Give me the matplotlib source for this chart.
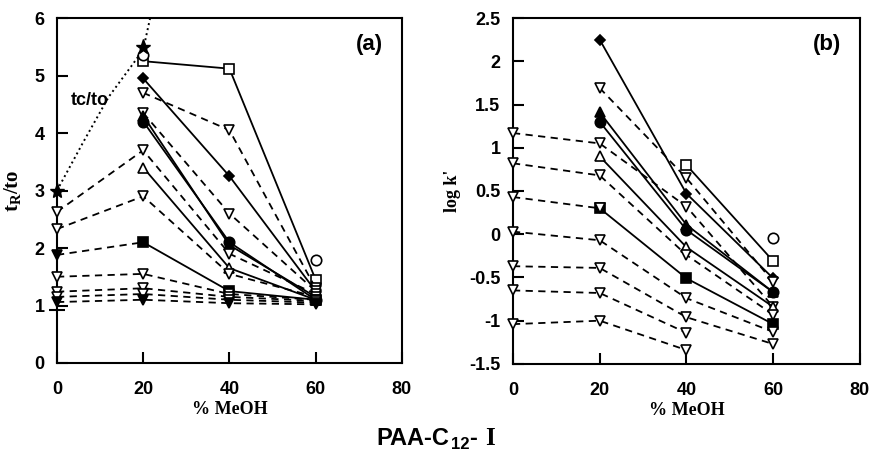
import numpy as np
import matplotlib.pyplot as plt

plt.rcParams['font.family'] = ['Liberation Sans', 'DejaVu Sans']
plt.rcParams['font.weight'] = 'bold'
plt.rcParams['mathtext.default'] = 'regular'

meoh = [0, 20, 40, 60]
nan = np.nan

# (a) tR/t0 values: name -> (values, marker, filled, linestyle)
a_series = {
    "sq_open":   ([nan, 5.25, 5.12, 1.45], 's', False, '-'),
    "circ_open": ([nan, 5.35, nan, 1.80], 'o', False, 'none'),
    "diamond":   ([nan, 4.95, 3.25, 1.25], 'D', True, '-'),
    "tri1":      ([nan, 4.70, 4.05, 1.30], 'v', False, '--'),
    "tri2":      ([nan, 4.35, 2.60, 1.25], 'v', False, '--'),
    "tri_fill":  ([nan, 4.30, 2.05, 1.15], '^', True, '-'),
    "circ_fill": ([nan, 4.20, 2.10, 1.10], 'o', True, '-'),
    "tri3":      ([2.63, 3.70, 1.90, 1.20], 'v', False, '--'),
    "tri_up":    ([nan, 3.40, 1.65, 1.10], '^', False, '-'),
    "tri4":      ([2.33, 2.90, 1.55, 1.15], 'v', False, '--'),
    "sq_fill":   ([1.88, 2.10, 1.25, 1.10], 's', True, '-'),
    "tri5":      ([1.50, 1.55, 1.20, 1.10], 'v', False, '--'),
    "tri6":      ([1.24, 1.30, 1.15, 1.08], 'v', False, '--'),
    "tri7":      ([1.15, 1.20, 1.10, 1.05], 'v', False, '--'),
    "tri8":      ([1.06, 1.10, 1.04, 1.02], 'v', True, '--'),
}
star_a = [3.0, 5.5]

# tc/t0 dotted curve
tc_x = [0, 6, 12, 17.6, 20, 21.6, 22.2]
tc_y = [3.0, 3.83, 4.63, 5.2, 5.45, 6.0, 6.3]

# (b) log k' values
b_series = {
    "sq_open":   ([nan, nan, 0.80, -0.31], 's', False, '-'),
    "circ_open": ([nan, nan, nan, -0.04], 'o', False, 'none'),
    "diamond":   ([nan, 2.25, 0.47, -0.51], 'D', True, '-'),
    "tri1":      ([nan, 1.69, 0.65, -0.55], 'v', False, '--'),
    "tri_fill":  ([nan, 1.41, 0.11, -0.67], '^', True, '-'),
    "circ_fill": ([nan, 1.30, 0.05, -0.67], 'o', True, '-'),
    "tri3":      ([1.17, 1.05, 0.32, -0.84], 'v', False, '--'),
    "tri_up":    ([nan, 0.90, -0.15, -0.84], '^', False, '-'),
    "tri4":      ([0.82, 0.68, -0.24, -0.93], 'v', False, '--'),
    "sq_fill":   ([nan, 0.30, -0.51, -1.04], 's', True, '-'),
    "tri5":      ([0.43, 0.30, nan, nan], 'v', False, '--'),
    "tri6":      ([0.03, -0.07, -0.74, -1.13], 'v', False, '--'),
    "tri7":      ([-0.37, -0.39, -0.96, -1.27], 'v', False, '--'),
    "tri8":      ([-0.65, -0.68, -1.14, nan], 'v', False, '--'),
    "tri9":      ([-1.04, -1.00, -1.34, nan], 'v', False, '--'),
}

MS = 7.5


def plot_line(ax, x, v, mk, fc, ls):
    ms = 5.5 if mk == 'D' else MS
    kw = dict(color='black', lw=1.3, marker=mk, ms=ms, mfc=fc,
              mec='black', mew=1.2, zorder=3, clip_on=False)
    if ls == '--':
        ax.plot(x, v, ls='--', dashes=(4, 3), **kw)
    else:
        ax.plot(x, v, ls=ls, **kw)


def draw_series(ax, series, split_sq=False):
    for name, (vals, mk, filled, ls) in series.items():
        v = np.array(vals, dtype=float)
        x = np.array(meoh, dtype=float)
        ok = ~np.isnan(v)
        fc = 'black' if filled else 'white'
        if name == "sq_fill" and split_sq:
            # dashed from 0 % to 20 %, solid afterwards
            ax.plot(x[:2], v[:2], ls='--', dashes=(4, 3), color='black', lw=1.3)
            plot_line(ax, x[1:], v[1:], mk, fc, '-')
            plot_line(ax, x[:1], v[:1], 'v', 'black', 'none')
            continue
        plot_line(ax, x[ok], v[ok], mk, fc, ls)


def style_axes(ax):
    for s in ax.spines.values():
        s.set_linewidth(1.5)
    ax.tick_params(direction='in', length=8, width=1.5, labelsize=13)
    ax.tick_params(axis='x', pad=13)
    ax.tick_params(axis='y', pad=9)
    for lab in ax.get_xticklabels() + ax.get_yticklabels():
        lab.set_fontweight('bold')


fig = plt.figure(figsize=(8.73, 4.63), dpi=100)
ax1 = fig.add_axes([0.0653, 0.216, 0.395, 0.745])
ax2 = fig.add_axes([0.5876, 0.214, 0.3974, 0.747])

# panel (a)
draw_series(ax1, a_series, split_sq=True)
ax1.plot([0, 20], star_a, ls='none', marker='*', ms=11, color='black',
         zorder=4, clip_on=False)
ax1.plot(tc_x, tc_y, ls=':', color='black', lw=1.4)
ax1.plot([0], [0.93], ls='none', marker='_', ms=12, mew=1.5, color='black',
         clip_on=False)
ax1.text(3.2, 4.57, 'tc/to', fontsize=13, fontweight='bold',
         va='center', ha='left')
ax1.text(0.945, 0.955, '(a)', transform=ax1.transAxes, ha='right', va='top',
         fontsize=16, fontweight='bold')
ax1.set_xlim(0, 80)
ax1.set_ylim(0, 6)
ax1.set_xticks([0, 20, 40, 60, 80])
ax1.set_yticks([0, 1, 2, 3, 4, 5, 6])
ax1.set_xlabel('% MeOH', fontfamily='Liberation Serif', fontweight='bold',
               fontsize=13, labelpad=2)
ax1.set_ylabel('t$_R$/to', fontfamily='Liberation Serif', fontweight='bold',
               fontsize=15, labelpad=8)
style_axes(ax1)

# panel (b)
draw_series(ax2, b_series)
ax2.text(0.945, 0.955, '(b)', transform=ax2.transAxes, ha='right', va='top',
         fontsize=16, fontweight='bold')
ax2.set_xlim(0, 80)
ax2.set_ylim(-1.5, 2.5)
ax2.set_xticks([0, 20, 40, 60, 80])
ax2.set_yticks([-1.5, -1, -0.5, 0, 0.5, 1, 1.5, 2, 2.5])
ax2.set_yticklabels(['-1.5', '-1', '-0.5', '0', '0.5', '1', '1.5', '2', '2.5'])
ax2.set_xlabel('% MeOH', fontfamily='Liberation Serif', fontweight='bold',
               fontsize=13, labelpad=2)
ax2.set_ylabel("log k'", fontfamily='Liberation Serif', fontweight='bold',
               fontsize=13, labelpad=6)
style_axes(ax2)

# caption "PAA-C12- I", built from pieces and centred
pieces = [
    ('PAA-C', 17, 'Liberation Sans', 0),
    ('12', 12, 'Liberation Sans', -4),
    ('- ', 17, 'Liberation Sans', 0),
    ('I', 18, 'Liberation Serif', 0),
]
W, H = 873, 463
renderer = fig.canvas.get_renderer()
texts = []
for s, size, fam, dy in pieces:
    t = fig.text(0, 0, s, fontsize=size, fontfamily=fam, fontweight='bold',
                 ha='left', va='baseline')
    texts.append((t, dy))
widths = [t.get_window_extent(renderer).width for t, _ in texts]
gap = 1
total = sum(widths) + gap * (len(widths) - 1)
x = 436 - total / 2
base = 18
for (t, dy), w in zip(texts, widths):
    t.set_position((x / W, (base + dy) / H))
    x += w + gap

fig.savefig('out.png', dpi=100)
